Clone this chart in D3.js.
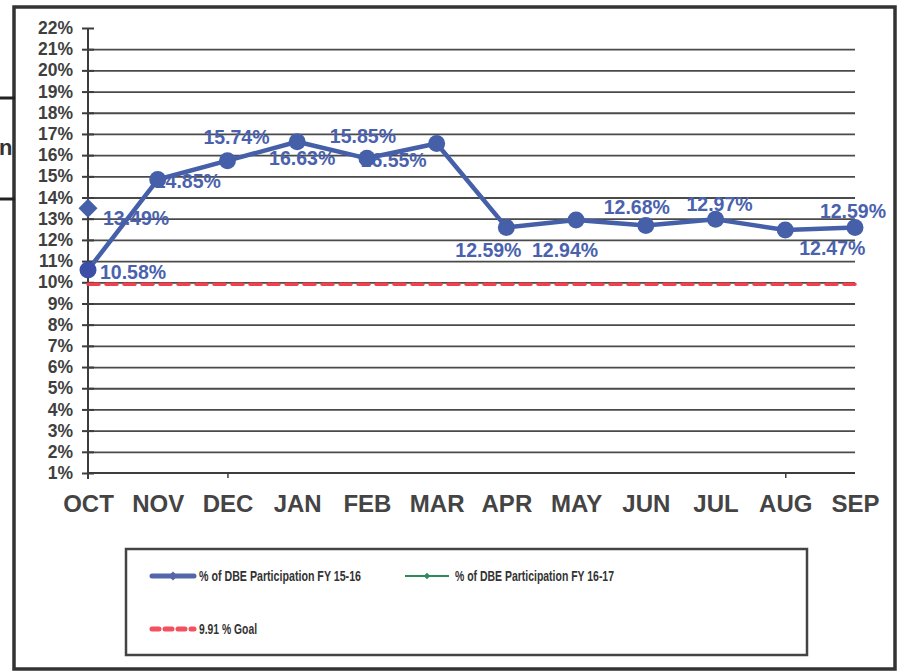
<!DOCTYPE html>
<html>
<head>
<meta charset="utf-8">
<script src="https://cdn.jsdelivr.net/npm/d3@7"></script>
<style>
  html, body { margin: 0; padding: 0; background: #fff; }
  svg { display: block; }
  text { font-family: "Liberation Sans", Arial, Helvetica, sans-serif; }
</style>
</head>
<body>
<svg id="chart" width="906" height="671"></svg>
<script>
// ---- data ----
const months = ["OCT","NOV","DEC","JAN","FEB","MAR","APR","MAY","JUN","JUL","AUG","SEP"];
const fy1516 = [10.58, 14.85, 15.74, 16.63, 15.85, 16.55, 12.59, 12.94, 12.68, 12.97, 12.47, 12.59];
const fy1617 = [13.49];            // only OCT reported
const goal = 9.91;
const yTicks = d3.range(1, 23);     // 1% .. 22%
const legendLabels = ["% of DBE Participation FY 15-16", "% of DBE Participation FY 16-17", "9.91 % Goal"];

// label placement offsets (dx, dy relative to the point; layout only)
const labelOffsets1516 = [
  [12, 2, "start"], [-3, 1, "start"], [9, -24, "middle"], [5, 16, "middle"],
  [-4, -22, "middle"], [-43, 16, "middle"], [-18, 23, "middle"], [-11, 30, "middle"],
  [-9, -19, "middle"], [4, -15, "middle"], [47, 18, "middle"], [-2, -16, "middle"]
];
const labelOffsets1617 = [[15, 10, "start"]];

// ---- layout ----
const svg = d3.select("#chart");
const x = d3.scalePoint().domain(months).range([88, 855]);
const y = d3.scaleLinear().domain([1, 22]).range([473, 28]);
const blue = "#4560a8";
const labelBlue = "#4a62ad";
const axisGrey = "#3d3d3d";

// outer frame
svg.append("rect").attr("x", 14).attr("y", 7).attr("width", 881).attr("height", 662)
  .attr("fill", "none").attr("stroke", "#333").attr("stroke-width", 3.5);

// scan artefacts on the left edge
svg.append("line").attr("x1", 0).attr("x2", 15).attr("y1", 98).attr("y2", 98)
  .attr("stroke", "#222").attr("stroke-width", 3);
svg.append("line").attr("x1", 0).attr("x2", 15).attr("y1", 199).attr("y2", 199)
  .attr("stroke", "#222").attr("stroke-width", 3);
svg.append("text").attr("x", -1).attr("y", 155).text("n")
  .attr("font-size", 22).attr("font-weight", "bold").attr("fill", "#333");

// gridlines (2% .. 21%)
svg.append("g").attr("transform", "translate(88,0)")
  .call(d3.axisLeft(y).tickValues(d3.range(2, 22)).tickSize(-(855 - 88)).tickFormat(""))
  .call(g => g.select(".domain").remove())
  .call(g => g.selectAll(".tick line").attr("stroke", "#4a4a4a").attr("stroke-width", 1.8));

// x axis
const xAxis = svg.append("g").attr("transform", "translate(0,473)")
  .call(d3.axisBottom(x).tickSize(5).tickPadding(17));
xAxis.select(".domain").attr("d", "M88,0H855").attr("stroke", axisGrey).attr("stroke-width", 2);
xAxis.selectAll(".tick line").attr("stroke", axisGrey).attr("stroke-width", 1.5)
  .attr("opacity", d => (d === "DEC" || d === "AUG") ? 1 : 0);
xAxis.selectAll(".tick text")
  .attr("font-size", 24).attr("font-weight", "bold").attr("fill", "#444")
  .attr("font-family", "'Liberation Sans', Arial, sans-serif");

// y axis
const yAxis = svg.append("g").attr("transform", "translate(88,0)")
  .call(d3.axisLeft(y).tickValues(yTicks).tickFormat(d => d + "%").tickSize(6).tickPadding(9));
yAxis.select(".domain").attr("d", "M0,28V479").attr("stroke", axisGrey).attr("stroke-width", 2);
yAxis.selectAll(".tick line").attr("x1", -6).attr("x2", 6).attr("stroke", axisGrey).attr("stroke-width", 2);
yAxis.selectAll(".tick text")
  .attr("font-size", 17.5).attr("font-weight", "bold").attr("fill", "#3f3f3f")
  .attr("font-family", "'Liberation Sans', Arial, sans-serif");

// goal line
svg.append("line")
  .attr("x1", x("OCT")).attr("x2", x("SEP"))
  .attr("y1", y(goal)).attr("y2", y(goal))
  .attr("stroke", "#f2404f").attr("stroke-width", 3.5)
  .attr("stroke-dasharray", "11,7").attr("stroke-linecap", "round");

// data labels (drawn first so the series sits on top)
const fmt = v => v.toFixed(2) + "%";
svg.append("g").selectAll("text").data(fy1516).join("text")
  .attr("x", (d, i) => x(months[i]) + labelOffsets1516[i][0])
  .attr("y", (d, i) => y(d) + labelOffsets1516[i][1])
  .attr("dy", "0.36em")
  .attr("text-anchor", (d, i) => labelOffsets1516[i][2])
  .attr("font-size", 19.5).attr("font-weight", "bold").attr("fill", labelBlue)
  .text(fmt);
svg.append("g").selectAll("text").data(fy1617).join("text")
  .attr("x", (d, i) => x(months[i]) + labelOffsets1617[i][0])
  .attr("y", (d, i) => y(d) + labelOffsets1617[i][1])
  .attr("dy", "0.36em")
  .attr("text-anchor", (d, i) => labelOffsets1617[i][2])
  .attr("font-size", 19.5).attr("font-weight", "bold").attr("fill", labelBlue)
  .text(fmt);

// FY 15-16 line and markers
const line = d3.line().x((d, i) => x(months[i])).y(d => y(d));
svg.append("path").datum(fy1516).attr("d", line)
  .attr("fill", "none").attr("stroke", blue).attr("stroke-width", 4.5).attr("stroke-linejoin", "round");
svg.append("g").selectAll("circle").data(fy1516).join("circle")
  .attr("cx", (d, i) => x(months[i])).attr("cy", d => y(d)).attr("r", 8.5)
  .attr("fill", (d, i) => i === 0 ? "#3d4ea8" : blue);

// FY 16-17 (single diamond)
svg.append("g").selectAll("path").data(fy1617).join("path")
  .attr("d", d3.symbol(d3.symbolSquare, 180))
  .attr("transform", (d, i) => `translate(${x(months[i])},${y(d)}) rotate(45)`)
  .attr("fill", blue);

// legend
const lg = svg.append("g");
lg.append("rect").attr("x", 126).attr("y", 549).attr("width", 681).attr("height", 106)
  .attr("fill", "#fff").attr("stroke", "#444").attr("stroke-width", 2.5);
// item 1
lg.append("line").attr("x1", 152).attr("x2", 194).attr("y1", 576).attr("y2", 576)
  .attr("stroke", "#5466a8").attr("stroke-width", 5).attr("stroke-linecap", "round");
lg.append("path").attr("d", d3.symbol(d3.symbolSquare, 40))
  .attr("transform", "translate(173,576) rotate(45)").attr("fill", "#5466a8");
// item 2
lg.append("line").attr("x1", 405).attr("x2", 449).attr("y1", 576).attr("y2", 576)
  .attr("stroke", "#2e8a5a").attr("stroke-width", 2);
lg.append("path").attr("d", d3.symbol(d3.symbolSquare, 22))
  .attr("transform", "translate(427,576) rotate(45)").attr("fill", "#2e8a5a");
// item 3
lg.append("line").attr("x1", 152).attr("x2", 194).attr("y1", 629).attr("y2", 629)
  .attr("stroke", "#f4505f").attr("stroke-width", 5)
  .attr("stroke-dasharray", "7,6").attr("stroke-linecap", "round");
const legendPos = [[199, 576, 162], [455, 576, 159], [199, 629, 58]];
lg.selectAll("text.leg").data(legendLabels).join("text").attr("class", "leg")
  .attr("x", (d, i) => legendPos[i][0]).attr("y", (d, i) => legendPos[i][1])
  .attr("dy", "0.36em")
  .attr("textLength", (d, i) => legendPos[i][2]).attr("lengthAdjust", "spacingAndGlyphs")
  .attr("font-size", 14.5).attr("font-weight", "bold").attr("fill", "#333")
  .text(d => d);
</script>
</body>
</html>
